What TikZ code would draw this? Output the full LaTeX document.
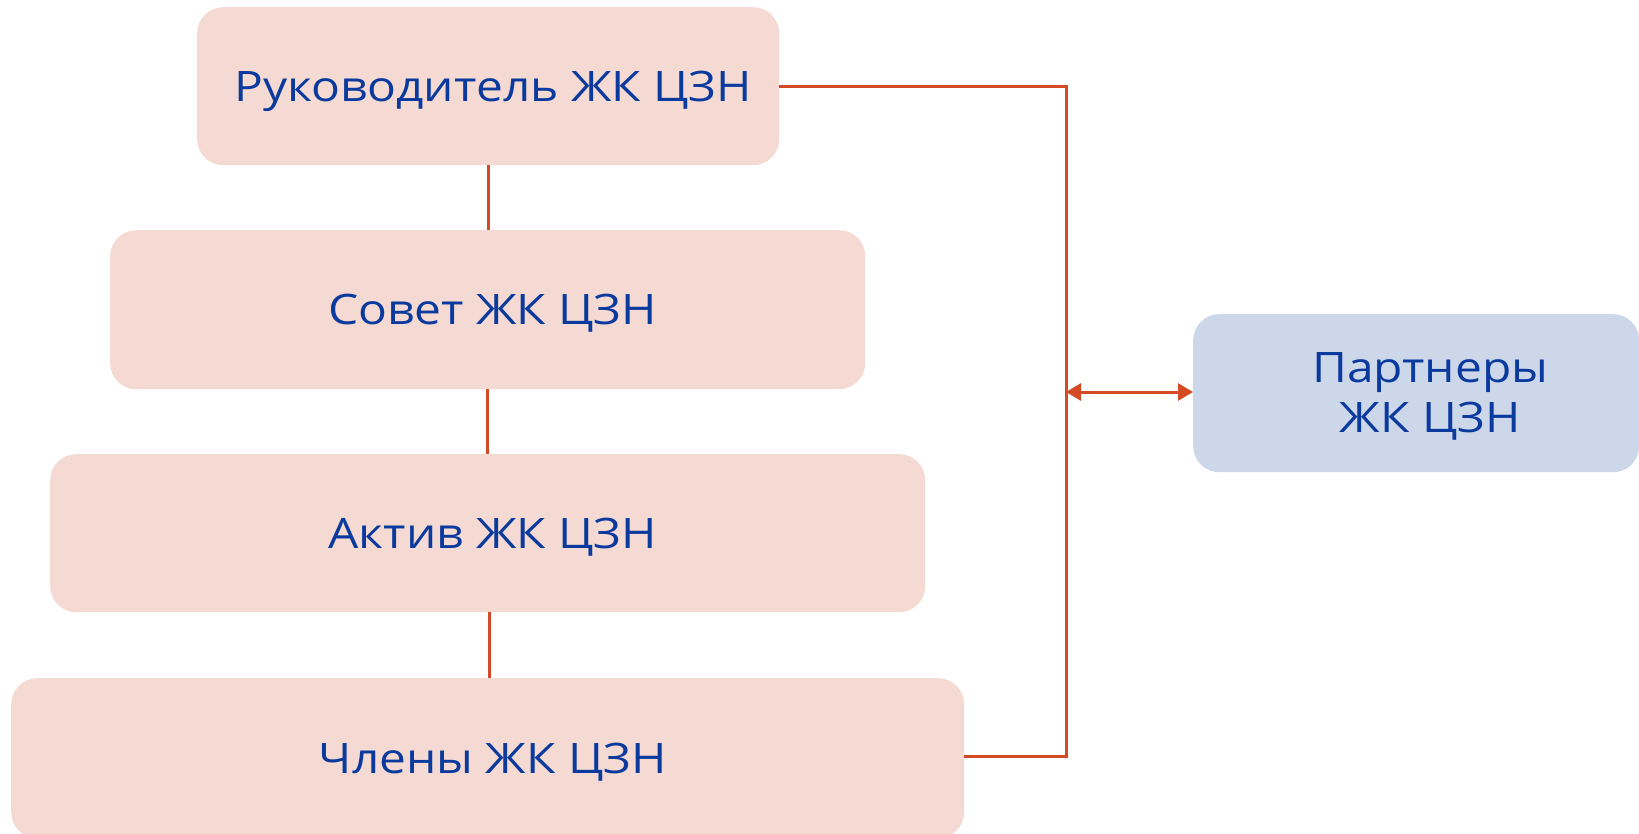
\documentclass[tikz,border=0pt]{standalone}
\usepackage{fontspec}
\setmainfont[FakeStretch=1.14]{Open Sans}
\usetikzlibrary{arrows.meta}
\definecolor{boxpink}{HTML}{F4DAD2}
\definecolor{boxblue}{HTML}{CDD7EA}
\definecolor{txtblue}{HTML}{0B3A9E}
\definecolor{lineor}{HTML}{D34A24}
\tikzset{
  x=1pt, y=-1pt,
  basebox/.style={rounded corners=26pt, draw=none, anchor=north west, inner sep=0pt,
    text=txtblue, font=\fontsize{42}{50}\selectfont},
  box/.style={basebox, fill=boxpink, text height=30pt, text depth=0pt},
  pbox/.style={basebox, fill=boxblue, align=center},
  conn/.style={draw=lineor, line width=3pt},
}
\begin{document}
\begin{tikzpicture}
\useasboundingbox (0,0) rectangle (1639,833);
\node[box, minimum width=582pt, minimum height=158pt] (b1) at (197,7) {\hspace*{10pt}Руководитель ЖК ЦЗН};
\node[box, minimum width=755pt, minimum height=159pt] (b2) at (110,230) {\hspace*{10pt}Совет ЖК ЦЗН};
\node[box, minimum width=875pt, minimum height=158pt] (b3) at (50,454) {\hspace*{10pt}Актив ЖК ЦЗН};
\node[box, minimum width=953pt, minimum height=160pt] (b4) at (11,678) {\hspace*{10pt}Члены ЖК ЦЗН};
\node[pbox, minimum width=446pt, minimum height=158pt] (p) at (1193,314) {\hspace*{28pt}\rule{0pt}{37pt}Партнеры\\\hspace*{28pt}ЖК ЦЗН};
\coordinate (top) at (1066,86);
\coordinate (bot) at (1066,756);
\coordinate (mid) at (1066,392);
\draw[conn] (b1.south) -- (b1.south |- b2.north);
\draw[conn] (b2.south) -- (b2.south |- b3.north);
\draw[conn] ([xshift=2pt]b3.south) -- ([xshift=2pt]b3.south |- b4.north);
\draw[conn] (top -| b1.east) -- (top) -- (bot) -- (bot -| b4.east);
\draw[conn, {Triangle[length=15pt,width=17pt]}-{Triangle[length=15pt,width=17pt]}] (mid) -- (mid -| p.west);
\end{tikzpicture}
\end{document}
